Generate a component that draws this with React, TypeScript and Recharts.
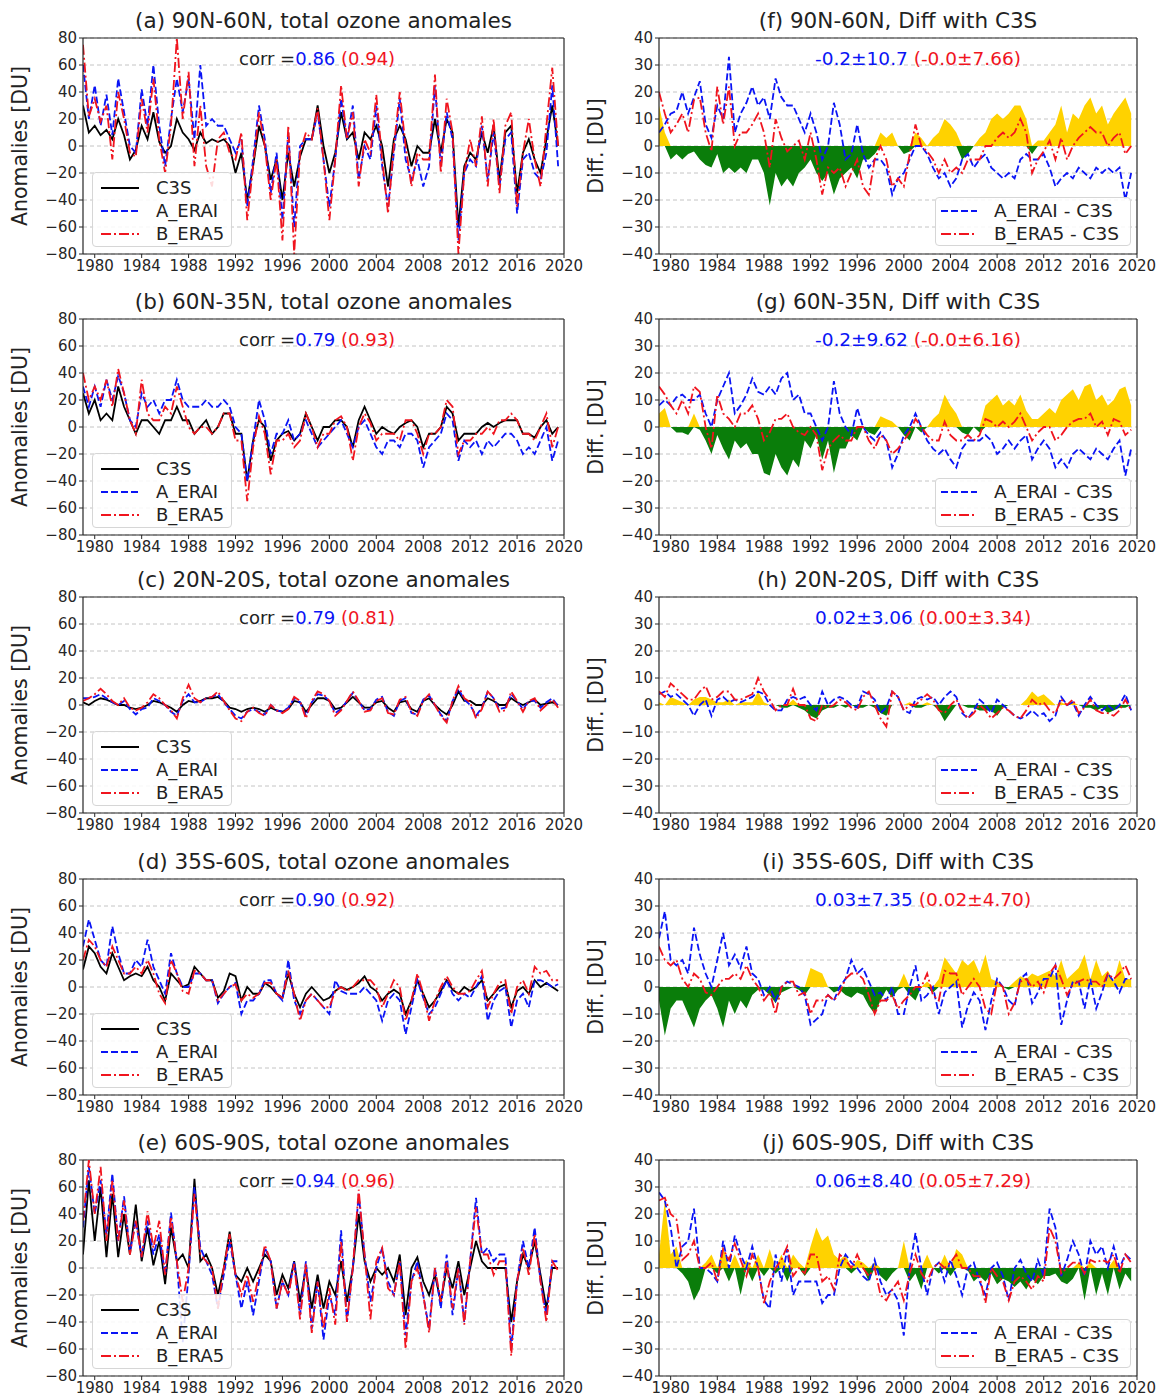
import React from "react";
import {
  ComposedChart,
  Line,
  Area,
  XAxis,
  YAxis,
  CartesianGrid,
  ReferenceLine,
} from "recharts";

// half-year sampling of the monthly series, 1979.0 .. 2019.5
const START_YEAR = 1979;
const YEARS = Array.from({ length: 82 }, (_, i) => START_YEAR + i / 2);

const X_TICKS = [1980, 1984, 1988, 1992, 1996, 2000, 2004, 2008, 2012, 2016, 2020];
const ANOM_TICKS = [-80, -60, -40, -20, 0, 20, 40, 60, 80];
const DIFF_TICKS = [-40, -30, -20, -10, 0, 10, 20, 30, 40];

// (a) 90N-60N
const A_C3S = [30,10,15,8,12,5,20,8,-10,-3, 15,5,25,3,-5,0,20,10,5,-3, 10,2,5,3,5,0,-20,-5,-40,-15, 15,0,-25,-10,-40,-5,-30,-8,5,5, 30,0,-20,-5,25,5,10,-10,10,5, 15,0,-30,5,15,5,-15,0,-5,-5, 20,-5,20,10,-60,-15,-5,-10,10,-5, 15,-25,10,15,-35,-5,5,-10,-20,5, 30,0];
const A_ERAI = [60,20,45,15,38,8,50,25,0,-5, 42,15,60,15,-15,20,50,25,50,5, 60,15,20,15,15,5,-5,5,-45,-10, 30,5,-35,-5,-55,10,-60,0,5,5, 25,-10,-45,-10,35,5,30,-25,0,-10, 30,-15,-45,-5,35,-10,-25,-10,-30,-15, 45,-15,25,5,-70,-20,-10,-15,15,-25, 10,-30,5,10,-50,-10,-5,-20,-25,-5, 45,-15];
const A_ERA5 = [75,22,35,18,30,-10,40,20,-5,-8, 35,10,50,5,-20,15,80,20,55,-15, 30,-15,-30,5,10,-5,-10,10,-55,-15, 25,0,-40,-10,-70,15,-80,-5,10,5, 28,-10,-55,-10,45,5,25,-30,5,-5, 38,-10,-50,0,40,0,-30,-5,-10,-10, 53,-20,35,10,-80,-20,5,-15,22,-30, 20,-35,15,25,-45,-5,20,-10,-30,15, 58,0];

// (b) 60N-35N
const B_C3S = [25,10,20,5,10,5,30,15,5,-5, 5,5,0,-5,5,5,15,5,5,-5, 0,5,-5,0,10,10,-5,-5,-40,-10, 5,0,-25,-10,-5,-3,-10,-5,10,0, -10,0,0,5,5,0,-15,5,15,5, -5,0,-3,-5,0,3,5,0,-15,-5, -5,0,15,10,-10,-5,-5,-5,0,3, 0,3,5,5,5,-5,-5,-8,0,5, -5,0];
const B_ERAI = [30,15,30,15,35,20,38,25,5,0, 25,15,20,10,20,20,35,20,15,15, 15,20,15,15,20,15,0,-5,-40,-10, 20,5,-20,-5,-5,5,-10,-5,5,-5, -15,-10,-5,0,5,-5,-15,0,5,-5, -15,-20,-10,-10,-15,-5,-5,-10,-30,-15, -10,-5,10,5,-25,-10,-15,-10,-20,-10, -15,-10,-5,-5,-10,-20,-15,-20,-10,0, -25,-10];
const B_ERA5 = [40,20,30,20,35,15,43,25,5,-5, 35,10,5,5,15,10,30,15,0,-5, 0,0,-5,0,10,10,-10,-10,-55,-15, 8,-5,-35,-10,-10,-5,-15,-10,10,0, -15,-5,-5,5,8,0,-25,0,10,3, -10,-5,-5,-5,-10,5,5,-5,-20,-5, -5,0,20,15,-20,-10,-10,-5,-5,0, -5,5,5,10,5,-5,-5,-10,0,10, -15,0];

// (c) 20N-20S
const C_C3S = [2,0,3,5,4,2,0,0,-2,-3, -2,0,3,2,0,-2,-5,0,3,2, 3,5,5,6,3,-2,-3,-5,-3,-2, -3,-5,-2,-4,-5,-3,3,2,-5,0, 5,5,3,-3,-2,2,6,2,-2,-2, 2,3,-2,-5,2,3,-3,-5,3,5, 0,-4,-7,0,10,3,3,0,0,5, 3,0,0,5,2,0,2,4,0,1, 2,0];
const C_ERAI = [5,5,6,8,5,2,0,3,-3,-7, -3,-2,5,3,0,-5,-8,3,8,2, 2,5,6,8,2,-3,-8,-10,-5,-3, -5,-7,0,-4,-5,-2,5,2,-8,2, 8,7,3,-6,-3,3,9,3,-4,-3, 4,6,-5,-8,3,5,-6,-7,4,7, 0,-7,-12,3,12,4,0,-8,-2,10, 5,-3,-2,8,3,-3,3,3,-2,2, 5,-1];
const C_ERA5 = [3,5,8,12,8,3,0,5,-2,-4, -2,2,8,5,0,-4,-10,5,15,5, 2,5,6,10,3,-4,-10,-12,-5,-2, -6,-8,0,-4,-6,-3,6,3,-10,3, 10,8,3,-8,-4,3,10,3,-5,-4, 3,5,-6,-7,4,6,-5,-8,3,8, 0,-8,-13,3,14,5,2,-10,-3,10, 5,-5,-4,10,3,-5,3,5,-4,0, 4,-2];

// (d) 35S-60S
const D_C3S = [13,30,25,15,10,25,15,5,8,10, 8,15,5,0,-10,10,5,0,2,15, 10,5,5,-8,-3,10,8,-10,0,-5, -5,3,0,-5,-8,10,-5,-15,-5,0, -5,-10,-8,-3,0,-2,0,3,8,0, -3,-10,-5,-2,-5,-20,-10,5,-5,-15, -10,-3,5,-2,-5,0,-3,0,5,-10, -5,0,2,-15,-3,0,-5,5,0,3, 0,-3];
const D_ERAI = [30,50,35,20,15,45,25,10,10,20, 15,35,15,5,-5,25,10,0,0,10, 10,5,5,-12,-5,0,3,-20,-10,-10, -5,5,5,-5,-10,20,-10,-20,-10,-5, -10,-15,-20,5,-3,-5,-5,-5,0,-5, -10,-25,-10,-5,-10,-35,-15,5,-8,-20, -15,-5,5,-5,-10,-5,-8,0,8,-25, -10,-3,0,-30,-10,-5,-15,5,5,3, 0,2];
const D_ERA5 = [20,35,30,20,15,30,20,10,10,15, 10,20,10,-5,-12,20,10,-3,-5,12, 10,5,5,-10,-5,0,2,-10,-5,-8, -5,3,3,-5,-8,12,-5,-25,-10,-5, -10,-15,-15,-3,0,-3,0,5,5,5, 0,-15,-5,5,0,-25,-10,10,-5,-25, -10,0,8,0,-5,-5,-3,5,12,-15, -5,3,5,-20,0,5,-5,15,10,12, 5,5];

// (e) 60S-90S
const E_C3S = [10,65,20,60,8,55,8,40,10,47, 5,30,2,20,-12,30,5,10,0,66, 5,10,0,-20,0,27,-5,-10,0,-10, 0,10,5,-20,-5,-15,5,-25,0,-30, -5,-30,-10,-20,5,-25,0,40,5,-10, 0,-5,0,-10,10,-35,0,8,-10,-20, -5,-25,0,-15,5,-20,0,20,5,0, 0,0,0,-40,-10,10,0,20,-5,-30, 0,0];
const E_ERAI = [30,75,40,65,25,70,20,53,12,35, 8,35,10,25,-5,41,5,-55,-5,60, 15,5,-5,-30,-5,20,-5,-30,-10,-35, -10,15,5,-30,-10,-20,5,-35,5,-45, -10,-53,-20,-35,28,-40,0,55,10,-25, 0,15,-10,-20,5,-50,-10,5,-20,-45, 0,-30,10,-35,0,-40,5,52,10,15, 5,10,10,-60,-10,20,0,30,-10,-35, 5,5];
const E_ERA5 = [35,80,40,75,20,65,20,50,10,35, 8,42,15,35,-5,38,5,-25,0,55, 10,5,0,-30,0,25,-5,-20,-5,-25, -5,17,5,-30,-10,-20,3,-38,3,-48, -10,-45,-15,-42,20,-40,0,58,10,-38, 5,15,-15,-20,5,-60,-10,0,-20,-48, 0,-25,5,-30,0,-42,5,45,10,10, -5,5,5,-65,-10,15,-5,25,-10,-40, 5,-2];

// (f) 90N-60N differences
const F_ERAI = [5,8,12,13,20,12,18,24,8,3, 15,10,33,5,12,16,22,15,18,10, 25,18,15,15,10,5,12,5,-5,0, 16,8,-5,-3,8,-3,-8,-5,-5,-8, -18,-12,-10,-5,0,0,-3,-8,-12,-10, -15,-12,-5,-3,-8,-5,-3,-8,-10,-12, -10,-12,-5,-3,-5,-5,-3,-8,-15,-12, -10,-12,-8,-10,-12,-8,-10,-8,-10,-8, -20,-10];
const F_ERA5 = [20,12,5,8,12,5,17,18,5,-2, 22,8,22,0,5,5,8,12,5,-8, 10,3,-2,0,2,-5,5,-5,-18,-8, -10,-8,-15,-10,-5,-15,-18,-5,0,-5, -15,-12,-15,-3,8,0,-2,-5,-10,-5, -10,-8,-10,-5,-5,-5,0,0,3,5, 3,5,10,5,-10,-5,-2,2,-5,3, -5,0,3,5,7,5,5,0,3,5, -3,0];
const F_FILL = [15,5,-5,-3,-5,-3,-2,-5,-7,-8, -3,-10,-8,-10,-8,-10,-5,-5,-10,-22, -10,-15,-12,-15,-10,-8,-5,-10,-13,-10, -18,-12,-10,-8,-12,-5,-5,-3,5,3, 5,0,-3,-2,5,3,0,3,5,10, 8,5,-5,-3,0,3,5,10,12,10, 12,15,15,10,-3,2,2,5,8,15, 5,12,10,15,18,12,15,8,12,15, 18,12];

// (g) 60N-35N differences
const G_ERAI = [8,10,8,11,12,10,10,12,5,0, 10,15,20,5,8,12,18,13,12,15, 12,18,20,10,12,5,5,0,-5,0, 17,5,0,-3,7,0,-3,-5,-2,-5, -15,-10,-3,0,5,0,-5,-8,-10,-8, -12,-15,-8,-5,-5,-5,-3,-5,-10,-8, -5,-8,-5,-3,-12,-8,-5,-8,-15,-12, -15,-10,-8,-10,-12,-8,-10,-12,-8,-5, -18,-8];
const G_ERA5 = [15,12,8,5,10,5,15,13,0,-8, 12,5,3,0,5,5,8,3,-5,-2, 3,3,5,0,-2,-3,0,-3,-16,-8, -5,-3,-5,-5,0,0,-5,-8,-3,-5, -10,-8,-5,-2,3,0,-3,-5,-5,2, -3,-5,-5,-3,-5,-3,3,2,0,2, 0,2,5,0,-5,-2,0,0,-5,-3, 0,2,3,3,5,0,2,-3,3,2, -3,-1];
const G_FILL = [5,7,0,-2,-2,-3,5,-1,-5,-10, -3,-8,-12,-5,-8,-6,-10,-10,-17,-18, -10,-15,-18,-12,-15,-5,-8,-3,-12,-5, -17,-8,-8,-3,-5,0,-2,-3,4,3, 2,0,-3,-5,0,-2,0,3,5,12, 8,5,-2,-3,0,-2,8,10,12,8, 10,8,12,6,3,3,5,7,5,10, 12,14,10,15,16,10,12,8,10,14, 15,8];

// (h) 20N-20S differences
const H_ERAI = [4,5,3,4,2,0,-4,0,2,-4, 2,3,1,2,1,2,3,5,4,0, -2,-2,2,3,2,3,0,-2,5,0, 2,3,2,0,-1,5,4,2,-3,-1, 5,3,-2,-3,2,3,2,3,0,3, 5,3,-3,-5,-2,2,0,-3,2,0, -2,-4,-5,-4,-2,-4,-3,-6,-4,3, 0,1,-4,0,3,0,-2,0,-2,0, 4,-2];
const H_ERA5 = [5,3,8,6,4,2,2,5,7,2, 3,5,5,2,2,3,4,10,5,2, -2,0,0,6,0,0,-5,-6,0,-1, 0,2,1,-1,-2,3,5,0,-5,-8, 5,3,-2,0,0,2,4,2,-2,-3, 0,2,-2,-5,-3,0,-2,-5,-3,-1, -2,-4,-5,-2,2,0,1,-2,-3,2, 0,2,-3,-1,2,-2,-3,-3,-4,-2, 2,-2];
const H_FILL = [1,0,3,2,1,0,2,3,3,2, 1,1,2,0,1,1,1,5,1,0, 0,-1,-1,2,-1,-2,-4,-5,-2,-1, -1,0,-1,0,-1,-1,0,-1,-3,-4, 0,0,0,1,-1,-1,1,0,-2,-6, -3,0,0,-1,-1,-2,-2,-2,-4,-1, 0,0,0,2,5,3,4,2,0,1, 0,1,0,-1,-1,-2,-1,-3,-2,-1, -1,0];

// (i) 35S-60S differences
const I_ERAI = [18,28,10,8,10,5,22,12,5,0, 10,20,8,12,7,15,5,3,-3,0, -5,0,2,1,0,-3,-14,-12,-10,-3, -5,0,3,10,5,7,2,-3,-2,-5, 0,-10,-10,0,8,-5,-3,0,-10,-2, 0,2,-15,-7,-2,-5,-16,-5,3,0, -5,-7,3,5,-6,-2,3,3,8,-14, -5,2,2,-8,3,-8,-2,5,2,-2, 3,3];
const I_ERA5 = [15,10,8,10,3,0,5,3,-2,-3, 0,3,3,5,3,8,3,0,-5,-2, -10,0,2,2,-3,-2,-10,-5,-5,-3, -5,-2,3,5,5,3,-3,-10,-5,-5, -3,-8,-5,-3,0,0,5,-3,-5,6, 5,5,-3,0,3,0,-8,-10,2,0, -10,-6,2,3,0,2,-2,5,8,3, -3,1,2,3,2,2,0,5,3,5, 8,3];
const I_FILL = [-5,-18,-8,-5,-5,-10,-15,-8,-5,-3, -8,-15,-5,-10,-5,-8,-3,-1,-1,-3, -6,-2,-1,0,-1,-3,7,6,5,0, -2,-1,-3,-4,-2,-3,-7,-10,-5,-1, -4,-1,5,-3,-5,0,2,-2,3,11, 8,5,10,8,10,5,12,3,2,0, -1,2,4,3,5,4,5,6,4,10, 3,5,7,12,3,10,4,6,2,10, 3,3];

// (j) 60S-90S differences
const J_ERAI = [28,25,15,0,8,10,22,0,0,-2, -5,10,0,12,5,0,8,0,-12,-15, 5,-5,7,-10,-5,-5,-5,-5,-13,-10, -10,0,5,2,0,-3,-5,3,-5,-10, -8,-12,-25,0,13,0,-10,0,2,-5, 3,-3,-10,0,2,-5,-10,0,2,-3, -12,0,3,-2,-5,3,-3,22,15,-3, 3,10,5,-3,10,5,8,0,8,0, 5,3];
const J_ERA5 = [25,26,20,18,3,5,10,0,0,2, -5,7,3,9,3,-3,5,0,-13,-5, 0,3,8,-3,0,-2,5,5,-5,-3, -8,5,3,0,5,0,-3,0,-10,-12, -8,-5,-12,-2,5,-2,-5,0,2,0, 2,5,0,0,-3,-3,-13,0,-3,-5, -12,-5,-3,-5,-8,-3,-5,15,10,-2, 0,2,2,-2,3,2,3,2,5,-2, 5,2];
const J_FILL = [5,25,5,8,-2,-5,-12,-8,2,5, -2,8,-5,5,-10,3,-5,5,-3,7, -2,5,-5,5,2,-3,8,15,10,12, 5,3,5,-2,3,2,-5,2,-3,-5, -2,0,10,-5,-2,-8,5,0,-2,5, -3,7,5,-1,-5,-3,-5,-2,-6,-4, -5,-7,-5,-8,-4,-6,-3,-3,-2,-5, -6,-4,2,-12,2,-10,-2,-10,3,-8, -2,-5];

const ROW_TOPS = [38, 319, 597, 879, 1160];

const ANOM_PANELS = [
  { title: "(a) 90N-60N, total ozone anomales", corrA: "0.86", corrB: "(0.94)", c3s: A_C3S, erai: A_ERAI, era5: A_ERA5 },
  { title: "(b) 60N-35N, total ozone anomales", corrA: "0.79", corrB: "(0.93)", c3s: B_C3S, erai: B_ERAI, era5: B_ERA5 },
  { title: "(c) 20N-20S, total ozone anomales", corrA: "0.79", corrB: "(0.81)", c3s: C_C3S, erai: C_ERAI, era5: C_ERA5 },
  { title: "(d) 35S-60S, total ozone anomales", corrA: "0.90", corrB: "(0.92)", c3s: D_C3S, erai: D_ERAI, era5: D_ERA5 },
  { title: "(e) 60S-90S, total ozone anomales", corrA: "0.94", corrB: "(0.96)", c3s: E_C3S, erai: E_ERAI, era5: E_ERA5 },
];

const DIFF_PANELS = [
  { title: "(f) 90N-60N, Diff with C3S", statA: "-0.2±10.7", statB: "(-0.0±7.66)", erai: F_ERAI, era5: F_ERA5, fill: F_FILL },
  { title: "(g) 60N-35N, Diff with C3S", statA: "-0.2±9.62", statB: "(-0.0±6.16)", erai: G_ERAI, era5: G_ERA5, fill: G_FILL },
  { title: "(h) 20N-20S, Diff with C3S", statA: "0.02±3.06", statB: "(0.00±3.34)", erai: H_ERAI, era5: H_ERA5, fill: H_FILL },
  { title: "(i) 35S-60S, Diff with C3S", statA: "0.03±7.35", statB: "(0.02±4.70)", erai: I_ERAI, era5: I_ERA5, fill: I_FILL },
  { title: "(j) 60S-90S, Diff with C3S", statA: "0.06±8.40", statB: "(0.05±7.29)", erai: J_ERAI, era5: J_ERA5, fill: J_FILL },
];

const BLUE = "#0a14f5";
const RED = "#f0141e";
const AXIS = "#262626";
const DASH_BLUE = "7 3";
const DASH_RED = "10 3 2 3";

const fmtTick = (v: number) => (v < 0 ? `\u2212${-v}` : `${v}`);
const tickStyle = { fontSize: 15, fill: "#262626", fontFamily: "DejaVu Sans" };
const CHART_MARGIN = { top: 10, right: 22, bottom: 0, left: 0 };

function Sample({ color, dash, width }: { color: string; dash?: string; width: number }) {
  return (
    <svg width={width} height={8} style={{ display: "block" }}>
      <line x1={0} y1={4} x2={width} y2={4} stroke={color} strokeWidth={2} strokeDasharray={dash} />
    </svg>
  );
}

function LegendRow({ color, dash, label, size, sw }: { color: string; dash?: string; label: string; size: number; sw: number }) {
  return (
    <div style={{ display: "flex", alignItems: "center", height: 23 }}>
      <Sample color={color} dash={dash} width={sw} />
      <span style={{ marginLeft: 17, fontSize: size, color: "#222" }}>{label}</span>
    </div>
  );
}

function AnomPanel({ p, top }: { p: (typeof ANOM_PANELS)[number]; top: number }) {
  const data = YEARS.map((t, i) => ({ t, c3s: p.c3s[i], erai: p.erai[i], era5: p.era5[i] }));
  return (
    <>
      <div style={{ position: "absolute", left: 83, width: 481, top: top - 30, textAlign: "center", fontSize: 21.5, lineHeight: "26px", color: "#222", whiteSpace: "nowrap" }}>
        {p.title}
      </div>
      <div style={{ position: "absolute", left: 20, top: top + 108, transform: "translate(-50%, -50%) rotate(-90deg)", whiteSpace: "nowrap", fontSize: 20.5, color: "#222" }}>
        Anomalies [DU]
      </div>
      <div style={{ position: "absolute", left: 33, top: top - 10 }}>
        <ComposedChart width={553} height={254} data={data} margin={CHART_MARGIN}>
          <CartesianGrid vertical={false} stroke="#c4c4c4" strokeDasharray="4 3" />
          <XAxis type="number" dataKey="t" domain={[1979, 2020]} ticks={X_TICKS} interval={0} allowDataOverflow tick={tickStyle} tickSize={4} tickLine={{ stroke: AXIS }} axisLine={{ stroke: AXIS, strokeWidth: 1.2 }} height={28} />
          <YAxis type="number" domain={[-80, 80]} ticks={ANOM_TICKS} interval={0} allowDataOverflow tick={tickStyle} tickFormatter={fmtTick} tickSize={4} tickLine={{ stroke: AXIS }} axisLine={{ stroke: AXIS, strokeWidth: 1.2 }} width={50} />
          <ReferenceLine y={80} stroke={AXIS} strokeWidth={1.2} />
          <ReferenceLine x={2020} stroke={AXIS} strokeWidth={1.2} />
          <Line type="linear" dataKey="c3s" stroke="#000" strokeWidth={1.8} dot={false} isAnimationActive={false} />
          <Line type="linear" dataKey="erai" stroke={BLUE} strokeWidth={1.8} strokeDasharray={DASH_BLUE} dot={false} isAnimationActive={false} />
          <Line type="linear" dataKey="era5" stroke={RED} strokeWidth={1.8} strokeDasharray={DASH_RED} dot={false} isAnimationActive={false} />
        </ComposedChart>
      </div>
      <div style={{ position: "absolute", left: 239, top: top + 9, fontSize: 18, lineHeight: "24px", whiteSpace: "nowrap" }}>
        <span style={{ color: "#222" }}>corr =</span>
        <span style={{ color: BLUE }}>{p.corrA}</span>
        <span style={{ color: RED }}> {p.corrB}</span>
      </div>
      <div style={{ position: "absolute", left: 92, top: top + 134, width: 130, height: 70, padding: "3px 0 0 8px", background: "rgba(255,255,255,0.85)", border: "1px solid #d6d6d6", borderRadius: 4 }}>
        <LegendRow color="#000" label="C3S" size={18} sw={38} />
        <LegendRow color={BLUE} dash={DASH_BLUE} label="A_ERAI" size={18} sw={38} />
        <LegendRow color={RED} dash={DASH_RED} label="B_ERA5" size={18} sw={38} />
      </div>
    </>
  );
}

function DiffPanel({ p, top }: { p: (typeof DIFF_PANELS)[number]; top: number }) {
  const data = YEARS.map((t, i) => ({
    t,
    erai: p.erai[i],
    era5: p.era5[i],
    pos: Math.max(p.fill[i], 0),
    neg: Math.min(p.fill[i], 0),
  }));
  return (
    <>
      <div style={{ position: "absolute", left: 659, width: 478, top: top - 30, textAlign: "center", fontSize: 21.5, lineHeight: "26px", color: "#222", whiteSpace: "nowrap" }}>
        {p.title}
      </div>
      <div style={{ position: "absolute", left: 596, top: top + 108, transform: "translate(-50%, -50%) rotate(-90deg)", whiteSpace: "nowrap", fontSize: 20.5, color: "#222" }}>
        Diff. [DU]
      </div>
      <div style={{ position: "absolute", left: 609, top: top - 10 }}>
        <ComposedChart width={550} height={254} data={data} margin={CHART_MARGIN}>
          <CartesianGrid vertical={false} stroke="#c4c4c4" strokeDasharray="4 3" />
          <XAxis type="number" dataKey="t" domain={[1979, 2020]} ticks={X_TICKS} interval={0} allowDataOverflow tick={tickStyle} tickSize={4} tickLine={{ stroke: AXIS }} axisLine={{ stroke: AXIS, strokeWidth: 1.2 }} height={28} />
          <YAxis type="number" domain={[-40, 40]} ticks={DIFF_TICKS} interval={0} allowDataOverflow tick={tickStyle} tickFormatter={fmtTick} tickSize={4} tickLine={{ stroke: AXIS }} axisLine={{ stroke: AXIS, strokeWidth: 1.2 }} width={50} />
          <ReferenceLine y={40} stroke={AXIS} strokeWidth={1.2} />
          <ReferenceLine x={2020} stroke={AXIS} strokeWidth={1.2} />
          <Area type="linear" dataKey="pos" baseValue={0} stroke="none" fill="#ffd200" fillOpacity={1} isAnimationActive={false} />
          <Area type="linear" dataKey="neg" baseValue={0} stroke="none" fill="#0a7d0a" fillOpacity={1} isAnimationActive={false} />
          <Line type="linear" dataKey="erai" stroke={BLUE} strokeWidth={1.8} strokeDasharray={DASH_BLUE} dot={false} isAnimationActive={false} />
          <Line type="linear" dataKey="era5" stroke={RED} strokeWidth={1.8} strokeDasharray={DASH_RED} dot={false} isAnimationActive={false} />
        </ComposedChart>
      </div>
      <div style={{ position: "absolute", left: 815, top: top + 9, fontSize: 18.5, lineHeight: "24px", whiteSpace: "nowrap" }}>
        <span style={{ color: BLUE }}>{p.statA}</span>
        <span style={{ color: RED }}> {p.statB}</span>
      </div>
      <div style={{ position: "absolute", left: 935, top: top + 159, width: 189, height: 46, padding: "1px 0 0 5px", background: "rgba(255,255,255,0.85)", border: "1px solid #d6d6d6", borderRadius: 4 }}>
        <LegendRow color={BLUE} dash={DASH_BLUE} label="A_ERAI - C3S" size={18.5} sw={36} />
        <LegendRow color={RED} dash={DASH_RED} label="B_ERA5 - C3S" size={18.5} sw={36} />
      </div>
    </>
  );
}

export default function App() {
  return (
    <div style={{ position: "absolute", left: 0, top: 0, width: 1159, height: 1398, background: "#fff", fontFamily: "DejaVu Sans", overflow: "hidden" }}>
      {ANOM_PANELS.map((p, i) => (
        <AnomPanel key={p.title} p={p} top={ROW_TOPS[i]} />
      ))}
      {DIFF_PANELS.map((p, i) => (
        <DiffPanel key={p.title} p={p} top={ROW_TOPS[i]} />
      ))}
    </div>
  );
}
